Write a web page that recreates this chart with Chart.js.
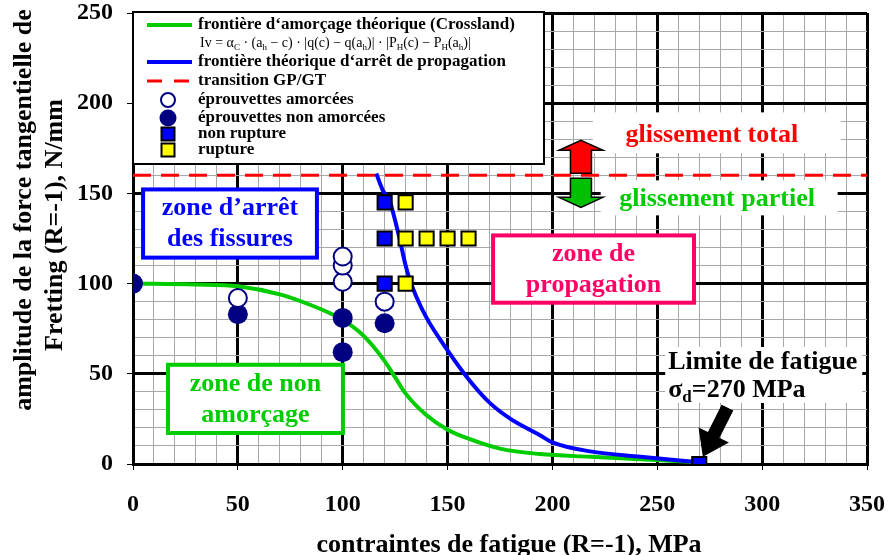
<!DOCTYPE html>
<html>
<head>
<meta charset="utf-8">
<script src="https://cdn.jsdelivr.net/npm/chart.js@4.4.1/dist/chart.umd.min.js"></script>
<style>
  html,body{margin:0;padding:0;background:#fff}
  #wrap{width:888px;height:555px;position:relative}
</style>
</head>
<body>
<div id="wrap"><canvas id="chart" width="888" height="555"></canvas></div>
<script>
// frontières théoriques : contrainte (MPa) -> amplitude force tangentielle (N/mm)
const crosslandX = [0, 30, 50, 70, 85, 95, 100, 110, 120, 125, 130, 140, 150, 160, 175, 194, 218, 242, 270];
const crosslandY = [100, 99.5, 98.5, 94, 88, 83, 80, 71, 57, 48, 39, 27, 19, 14, 8.5, 5.5, 4, 2.7, 1];
const arretX = [116, 119, 122.6, 125, 127.3, 130, 132, 135, 140, 150, 160, 170, 180, 194, 200, 218, 242, 270];
const arretY = [161, 152, 145, 135, 124, 110, 102, 93, 81, 63, 47, 34, 25, 16, 12, 7, 4, 1];
const transitionX = [0, 350];
const transitionY = [160, 160];

// essais
const amorceesX = [50, 100, 100, 100, 120];
const amorceesY = [92, 101, 110, 115, 90];
const nonAmorceesX = [0, 50, 100, 100, 120];
const nonAmorceesY = [100, 83, 81, 62, 78];
const nonRuptureX = [120, 120, 120, 270];
const nonRuptureY = [145, 125, 100, 0];
const ruptureX = [130, 130, 140, 150, 160, 130];
const ruptureY = [145, 125, 125, 125, 125, 100];

// graduations
const xTickLabels = [0, 50, 100, 150, 200, 250, 300, 350];
const yTickLabels = [0, 50, 100, 150, 200, 250];

const SERIF = '"Liberation Serif", "Times New Roman", serif';
const GREEN = '#00cc00', BLUE = '#0000ff', RED = '#ff0000', PINK = '#ff0066', NAVY = '#000080';

const pts = (xs, ys) => xs.map((x, i) => ({x, y: ys[i]}));

function richText(ctx, parts, x, y, size, weight) {
  parts.forEach(p => {
    const sub = Array.isArray(p);
    const t = sub ? p[0] : p;
    ctx.font = `${weight} ${sub ? Math.round(size * 0.65) : size}px ${SERIF}`;
    ctx.fillText(t, x, sub ? y + size * 0.3 : y);
    x += ctx.measureText(t).width;
  });
}

function arrow(ctx, x0, y0, x1, y1, shaft, headLen, headW) {
  const a = Math.atan2(y1 - y0, x1 - x0), L = Math.hypot(x1 - x0, y1 - y0);
  ctx.save();
  ctx.translate(x0, y0); ctx.rotate(a);
  ctx.beginPath();
  ctx.moveTo(0, -shaft); ctx.lineTo(L - headLen, -shaft); ctx.lineTo(L - headLen, -headW);
  ctx.lineTo(L, 0); ctx.lineTo(L - headLen, headW); ctx.lineTo(L - headLen, shaft); ctx.lineTo(0, shaft);
  ctx.closePath();
  ctx.fill(); ctx.stroke();
  ctx.restore();
}

function box(ctx, l, t, r, b, color, lw) {
  ctx.fillStyle = '#fff';
  ctx.fillRect(l, t, r - l, b - t);
  if (color) { ctx.strokeStyle = color; ctx.lineWidth = lw; ctx.strokeRect(l, t, r - l, b - t); }
}

// zones en unités du graphe
const zones = [
  {lines: ['zone d’arrêt', 'des fissures'], color: BLUE, x0: 4.8, x1: 87.7, y0: 114.4, y1: 152.2},
  {lines: ['zone de non', 'amorçage'], color: GREEN, x0: 16.7, x1: 100.1, y0: 17.2, y1: 55},
  {lines: ['zone de', 'propagation'], color: PINK, x0: 171.7, x1: 267.5, y0: 89.4, y1: 126.7}
];

const decor = {
  id: 'decor',
  afterDatasetsDraw(chart) {
    const {ctx, chartArea: ca, scales: {x, y}} = chart;
    const px = v => x.getPixelForValue(v), py = v => y.getPixelForValue(v);
    ctx.save();
    ctx.textBaseline = 'middle';

    // zones encadrées
    zones.forEach(z => {
      const l = px(z.x0), r = px(z.x1), t = py(z.y1), b = py(z.y0);
      box(ctx, l, t, r, b, z.color, 4);
      ctx.fillStyle = z.color; ctx.textAlign = 'center';
      ctx.font = `bold 26px ${SERIF}`;
      const cy = (t + b) / 2;
      ctx.fillText(z.lines[0], (l + r) / 2, cy - 15);
      ctx.fillText(z.lines[1], (l + r) / 2, cy + 16);
    });

    // glissement total / partiel autour de la transition
    const ty = py(160), ax = px(213.6);
    box(ctx, px(219.3), ty - 63, px(337.5), ty - 22);
    box(ctx, px(223), ty + 5, px(336), ty + 40);
    ctx.font = `bold 26px ${SERIF}`; ctx.textAlign = 'center';
    ctx.fillStyle = RED; ctx.fillText('glissement total', px(276), ty - 40);
    ctx.fillStyle = GREEN; ctx.fillText('glissement partiel', px(278.5), ty + 24);
    ctx.strokeStyle = '#000'; ctx.lineWidth = 1.5;
    ctx.fillStyle = RED; arrow(ctx, ax, ty - 2, ax, ty - 35, 10.5, 10, 22);
    ctx.fillStyle = '#00c000'; arrow(ctx, ax, ty + 3, ax, ty + 32, 10.5, 10, 22);

    // limite de fatigue
    const fx = px(270), fy = py(0);
    box(ctx, fx - 34, fy - 117, fx + 163, fy - 61);
    ctx.fillStyle = '#000'; ctx.textAlign = 'left';
    ctx.font = `bold 26px ${SERIF}`;
    ctx.fillText('Limite de fatigue', fx - 31, fy - 102);
    richText(ctx, ['σ', ['d'], '=270 MPa'], fx - 31, fy - 74, 26, 'bold');
    ctx.fillStyle = '#000'; ctx.strokeStyle = '#000'; ctx.lineWidth = 1;
    arrow(ctx, fx + 28, fy - 56, fx + 4, fy - 8, 6, 23, 16);

    // légende
    const lx = ca.left, lt = ca.top - 1;
    box(ctx, lx, lt, lx + 411, lt + 152, '#000', 2);
    const sx0 = lx + 14, sx1 = lx + 59, mx = lx + 35, tx = lx + 65;
    ctx.lineCap = 'butt';
    ctx.lineWidth = 4;
    ctx.strokeStyle = GREEN; ctx.beginPath(); ctx.moveTo(sx0, lt + 13); ctx.lineTo(sx1, lt + 13); ctx.stroke();
    ctx.strokeStyle = BLUE; ctx.beginPath(); ctx.moveTo(sx0, lt + 50); ctx.lineTo(sx1, lt + 50); ctx.stroke();
    ctx.lineWidth = 3; ctx.strokeStyle = RED; ctx.setLineDash([15, 12]);
    ctx.beginPath(); ctx.moveTo(sx0, lt + 69); ctx.lineTo(sx1, lt + 69); ctx.stroke();
    ctx.setLineDash([]);
    ctx.lineWidth = 2; ctx.strokeStyle = NAVY; ctx.fillStyle = '#fff';
    ctx.beginPath(); ctx.arc(mx, lt + 88, 7, 0, Math.PI * 2); ctx.fill(); ctx.stroke();
    ctx.fillStyle = NAVY;
    ctx.beginPath(); ctx.arc(mx, lt + 106, 8.5, 0, Math.PI * 2); ctx.fill();
    ctx.strokeStyle = '#000';
    ctx.fillStyle = BLUE; ctx.fillRect(mx - 6.5, lt + 115.5, 13, 13); ctx.strokeRect(mx - 6.5, lt + 115.5, 13, 13);
    ctx.fillStyle = '#ffff00'; ctx.fillRect(mx - 6.5, lt + 131.5, 13, 13); ctx.strokeRect(mx - 6.5, lt + 131.5, 13, 13);

    ctx.fillStyle = '#000'; ctx.textAlign = 'left';
    ctx.font = `bold 17px ${SERIF}`;
    ctx.fillText('frontière d‘amorçage théorique (Crossland)', tx, lt + 13);
    ctx.fillText('frontière théorique d‘arrêt de propagation', tx, lt + 50);
    ctx.fillText('transition GP/GT', tx, lt + 69);
    ctx.fillText('éprouvettes amorcées', tx, lt + 88);
    ctx.fillText('éprouvettes non amorcées', tx, lt + 106);
    ctx.fillText('non rupture', tx, lt + 122);
    ctx.fillText('rupture', tx, lt + 138);
    richText(ctx, ['Iv = α', ['C'], ' · (a', ['h'], ' − c) · |q(c) − q(a', ['h'], ')| · |P', ['H'], '(c) − P', ['H'], '(a', ['h'], ')|'],
      tx + 2, lt + 31, 14, 'normal');

    // titres des axes
    ctx.fillStyle = '#000'; ctx.textAlign = 'center';
    ctx.font = `bold 26px ${SERIF}`;
    ctx.fillText('contraintes de fatigue (R=-1), MPa', 509, 545);
    ctx.save();
    ctx.translate(24, 210); ctx.rotate(-Math.PI / 2);
    ctx.fillText('amplitude de la force tangentielle de', 0, 0);
    ctx.restore();
    ctx.save();
    ctx.translate(55, 225); ctx.rotate(-Math.PI / 2);
    ctx.fillText('Fretting (R=-1), N/mm', 0, 0);
    ctx.restore();
    ctx.restore();
  }
};

const major = v => v % 50 === 0;
const gridOpts = {
  color: c => major(c.tick.value) ? '#000' : '#a8a8a8',
  lineWidth: c => major(c.tick.value) ? 3 : 1,
  tickColor: c => major(c.tick.value) ? '#000' : 'rgba(0,0,0,0)',
  tickLength: 6,
  tickWidth: 1
};
const tickFont = {family: SERIF, size: 24, weight: 'bold', lineHeight: 1};

new Chart(document.getElementById('chart'), {
  type: 'scatter',
  data: {
    datasets: [
      {label: 'éprouvettes amorcées', data: pts(amorceesX, amorceesY), pointStyle: 'circle', pointRadius: 9,
        backgroundColor: '#fff', borderColor: NAVY, borderWidth: 2, order: 0},
      {label: 'éprouvettes non amorcées', data: pts(nonAmorceesX, nonAmorceesY), pointStyle: 'circle', pointRadius: 10,
        backgroundColor: NAVY, borderColor: NAVY, borderWidth: 0, order: 1},
      {label: 'non rupture', data: pts(nonRuptureX, nonRuptureY), pointStyle: 'rect', pointRadius: 10,
        backgroundColor: BLUE, borderColor: '#000', borderWidth: 2, order: 0},
      {label: 'rupture', data: pts(ruptureX, ruptureY), pointStyle: 'rect', pointRadius: 10,
        backgroundColor: '#ffff00', borderColor: '#000', borderWidth: 2, order: 0},
      {label: 'frontière d‘amorçage théorique (Crossland)', data: pts(crosslandX, crosslandY), showLine: true,
        borderColor: GREEN, borderWidth: 4, pointRadius: 0, cubicInterpolationMode: 'monotone', order: 3},
      {label: 'frontière théorique d‘arrêt de propagation', data: pts(arretX, arretY), showLine: true,
        borderColor: BLUE, borderWidth: 4, pointRadius: 0, cubicInterpolationMode: 'monotone', order: 2},
      {label: 'transition GP/GT', data: pts(transitionX, transitionY), showLine: true,
        borderColor: RED, borderWidth: 3, borderDash: [18, 10], pointRadius: 0, order: 4}
    ]
  },
  options: {
    responsive: false,
    animation: false,
    layout: {padding: {left: 0, top: 13, right: 21, bottom: 0}},
    plugins: {legend: {display: false}, tooltip: {enabled: false}},
    scales: {
      x: {
        type: 'linear', min: 0, max: 350,
        ticks: {stepSize: 10, autoSkip: false, maxRotation: 0, padding: 23, color: '#000', font: tickFont,
          callback: v => xTickLabels.includes(v) ? String(v) : ''},
        grid: gridOpts,
        border: {display: true, color: '#000', width: 3},
        // cadre fixe : on neutralise les marges ajoutées pour les étiquettes extrêmes
        afterFit: s => { s.height = 91; s.paddingLeft = 0; s.paddingRight = 0; }
      },
      y: {
        type: 'linear', min: 0, max: 250,
        ticks: {stepSize: 10, autoSkip: false, padding: 14, color: '#000', font: tickFont,
          callback: v => yTickLabels.includes(v) ? String(v) : ''},
        grid: gridOpts,
        border: {display: true, color: '#000', width: 3},
        afterFit: s => { s.width = 133; s.paddingTop = 0; s.paddingBottom = 0; }
      }
    }
  },
  plugins: [decor]
});
</script>
</body>
</html>
